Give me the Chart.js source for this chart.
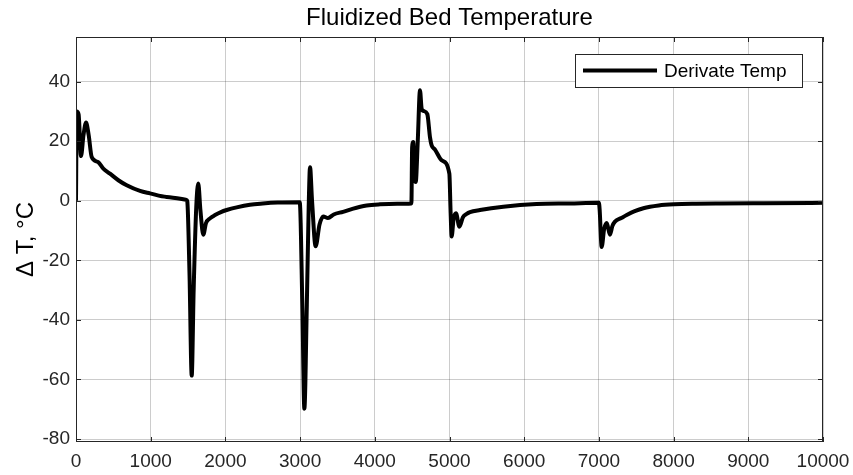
<!DOCTYPE html>
<html>
<head>
<meta charset="utf-8">
<script src="https://cdn.jsdelivr.net/npm/chart.js@4.4.0/dist/chart.umd.min.js"></script>
<style>
  html, body { margin: 0; padding: 0; background: #fff; }
</style>
</head>
<body>
<canvas id="chart" width="853" height="475"></canvas>
<script>
// Chart text
const chartTitle = "Fluidized Bed Temperature";
const seriesLabel = "Derivate Temp";
const yAxisLabel = "\u0394 T, \u00B0C";

// Series (time, temperature derivative)
const timeValues = [
  0, 10, 35, 67, 100, 134, 170, 210, 295, 366, 455, 567, 679, 857, 990, 1214, 1481,
  1490, 1520, 1549, 1575, 1610, 1637, 1665, 1704, 1740, 1794, 1861, 1940, 2017, 2150, 2329, 2500, 2700, 2995,
  3030, 3057, 3090, 3115, 3133, 3160, 3208, 3260, 3311, 3373, 3450, 3575, 3700, 3891, 4070, 4300, 4490,
  4500, 4515, 4530, 4548, 4575, 4605, 4627, 4650, 4703, 4739, 4761, 4806, 4900, 4998,
  5015, 5029, 5055, 5087, 5132, 5180, 5230, 5274, 5408, 5720, 6165, 6613, 7000,
  7010, 7037, 7070, 7105, 7148, 7180, 7215, 7300, 7372, 7480, 7595, 7800, 8010, 8300, 8620, 9200, 10000
];
const deltaTemp = [
  0, 30, 29, 15, 22, 26.3, 22, 14.7, 13, 10.8, 9.1, 6.9, 5.2, 3.3, 2.5, 1.3, 0.3,
  -0.2, -25, -58.7, -30, -2, 5.8, -3, -11.4, -7.5, -5.9, -4.8, -3.8, -3.1, -2.2, -1.3, -0.9, -0.6, -0.5,
  -35, -69.8, -35, -2, 11.3, 0, -15.3, -8, -5.3, -5.8, -4.6, -3.7, -2.7, -1.6, -1.2, -1.0, -0.9,
  18, 19.7, 8, 6.3, 20, 37.1, 31, 30.2, 29.1, 21.3, 18.6, 17.2, 13.5, 9.1,
  -4, -12, -6, -4.2, -8.7, -5.5, -4.4, -3.8, -3.1, -2.0, -1.1, -0.9, -0.7,
  -3, -15.5, -9.5, -7.5, -11.4, -8.5, -7, -5.8, -4.8, -3.5, -2.5, -1.6, -1.2, -1.0, -0.9, -0.8, -0.7
];

// Tick labels
const xTicks = [0, 1000, 2000, 3000, 4000, 5000, 6000, 7000, 8000, 9000, 10000];
const yTicks = [-80, -60, -40, -20, 0, 20, 40];

const axisColor = "#262626";
const gridColor = "rgba(0,0,0,0.2)";

Chart.defaults.font.family = "'Liberation Sans', Arial, sans-serif";
Chart.defaults.color = axisColor;

// box around the plot with small inward ticks, like matlab
const framePlugin = {
  id: "frame",
  afterDatasetsDraw(chart) {
    const { ctx, chartArea: a, scales } = chart;
    const tl = 5;
    ctx.save();
    ctx.strokeStyle = axisColor;
    ctx.lineWidth = 1;
    ctx.strokeRect(a.left + 0.5, a.top + 0.5, a.right - a.left - 1, a.bottom - a.top - 1);
    ctx.beginPath();
    xTicks.forEach(v => {
      const px = Math.round(scales.x.getPixelForValue(v)) + 0.5;
      ctx.moveTo(px, a.bottom); ctx.lineTo(px, a.bottom - tl);
      ctx.moveTo(px, a.top); ctx.lineTo(px, a.top + tl);
    });
    yTicks.forEach(v => {
      const py = Math.round(scales.y.getPixelForValue(v)) + 0.5;
      ctx.moveTo(a.left, py); ctx.lineTo(a.left + tl, py);
      ctx.moveTo(a.right, py); ctx.lineTo(a.right - tl, py);
    });
    ctx.stroke();
    ctx.restore();
  }
};

// legend box in the upper right corner of the plot
const boxLegendPlugin = {
  id: "boxLegend",
  afterDraw(chart) {
    const { ctx, chartArea: a } = chart;
    const ds = chart.data.datasets[0];
    const w = 227, h = 33;
    const left = a.right - 21 - w, top = a.top + 17;
    ctx.save();
    ctx.fillStyle = "#fff";
    ctx.fillRect(left, top, w, h);
    ctx.strokeStyle = axisColor;
    ctx.lineWidth = 1;
    ctx.strokeRect(left + 0.5, top + 0.5, w, h);
    const cy = top + h / 2;
    ctx.strokeStyle = ds.borderColor;
    ctx.lineWidth = ds.borderWidth;
    ctx.beginPath();
    ctx.moveTo(left + 8, cy);
    ctx.lineTo(left + 82, cy);
    ctx.stroke();
    ctx.fillStyle = "#000";
    ctx.font = "19px 'Liberation Sans', Arial, sans-serif";
    ctx.textBaseline = "middle";
    ctx.fillText(ds.label, left + 89, cy + 1);
    ctx.restore();
  }
};

const points = timeValues.map((t, i) => ({ x: t, y: deltaTemp[i] }));

new Chart(document.getElementById("chart"), {
  type: "line",
  data: {
    datasets: [{
      label: seriesLabel,
      data: points,
      borderColor: "#000",
      borderWidth: 4,
      pointRadius: 0,
      cubicInterpolationMode: "monotone",
      fill: false
    }]
  },
  options: {
    responsive: false,
    animation: false,
    layout: { padding: { left: 0, right: 30, top: 0, bottom: 0 } },
    plugins: {
      legend: { display: false },
      tooltip: { enabled: false },
      title: {
        display: true,
        text: chartTitle,
        fullSize: false,
        color: "#000",
        font: { size: 24, weight: "normal" },
        padding: { top: 4, bottom: 4.2 }
      }
    },
    scales: {
      x: {
        type: "linear",
        min: 0,
        max: 10000,
        afterBuildTicks: s => { s.ticks = xTicks.map(v => ({ value: v })); },
        afterFit: s => { s.height = 33; s.paddingLeft = 0; s.paddingRight = 0; },
        grid: { color: gridColor, drawTicks: false },
        border: { display: false },
        ticks: {
          font: { size: 19 },
          padding: 8,
          maxRotation: 0,
          autoSkip: false,
          callback: v => String(v)
        }
      },
      y: {
        min: -81,
        max: 55,
        afterBuildTicks: s => { s.ticks = yTicks.map(v => ({ value: v })); },
        afterFit: s => { s.width = 76; },
        grid: { color: gridColor, drawTicks: false },
        border: { display: false },
        ticks: { font: { size: 19 }, padding: 6 },
        title: {
          display: true,
          text: yAxisLabel,
          color: "#000",
          font: { size: 24 },
          padding: { top: 12, bottom: 0 }
        }
      }
    }
  },
  plugins: [framePlugin, boxLegendPlugin]
});
</script>
</body>
</html>
